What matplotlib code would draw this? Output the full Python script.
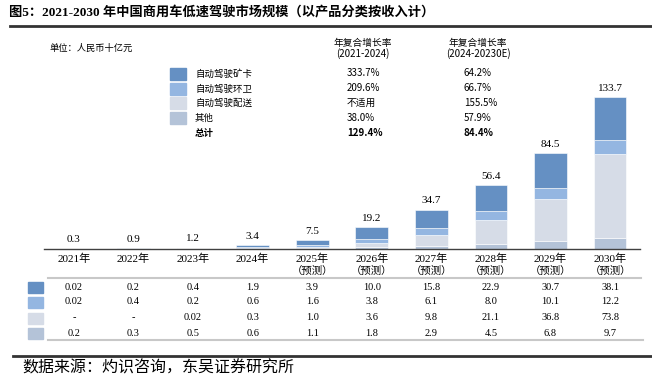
import matplotlib.pyplot as plt
from matplotlib.lines import Line2D
from matplotlib.transforms import blended_transform_factory
import numpy as np

years = ["2021年", "2022年", "2023年", "2024年", "2025年", "2026年",
         "2027年", "2028年", "2029年", "2030年"]
forecast = [False, False, False, False, True, True, True, True, True, True]
series_names = ["自动驾驶矿卡", "自动驾驶环卫", "自动驾驶配送", "其他"]
mining = [0.02, 0.2, 0.4, 1.9, 3.9, 10.0, 15.8, 22.9, 30.7, 38.1]
sanitation = [0.02, 0.4, 0.2, 0.6, 1.6, 3.8, 6.1, 8.0, 10.1, 12.2]
delivery = [None, None, 0.02, 0.3, 1.0, 3.6, 9.8, 21.1, 36.8, 73.8]
others = [0.2, 0.3, 0.5, 0.6, 1.1, 1.8, 2.9, 4.5, 6.8, 9.7]
totals = [0.3, 0.9, 1.2, 3.4, 7.5, 19.2, 34.7, 56.4, 84.5, 133.7]
cagr_21_24 = ["333.7%", "209.6%", "不适用", "38.0%", "129.4%"]
cagr_24_30 = ["64.2%", "66.7%", "155.5%", "57.9%", "84.4%"]

colors = ["#6590C3", "#94B6E1", "#D6DCE7", "#B4C3D8"]

W, H = 652, 382
SERIF = ["Liberation Serif", "Noto Sans CJK SC"]
SANS = ["Noto Sans CJK SC", "DejaVu Sans"]


def fx(x):
    return x / W


def fy(y):
    return 1 - y / H


def hline(x0, x1, y, color, lw):
    fig.add_artist(Line2D([fx(x0), fx(x1)], [fy(y), fy(y)],
                          transform=fig.transFigure, color=color, lw=lw))


def fmt(v):
    if v is None:
        return "-"
    if v < 0.1:
        return f"{v:.2f}"
    return f"{v:.1f}"


fig = plt.figure(figsize=(6.52, 3.82), dpi=100)
ax = fig.add_axes([fx(44.2), fy(249), (639.8 - 44.2) / W, (249 - 60) / H])
ax.set_xlim(-0.5, 9.5)
ax.set_ylim(0, 189 / 1.137)

x = np.arange(len(years))
stack = [others, delivery, sanitation, mining]
stack_colors = [colors[3], colors[2], colors[1], colors[0]]
bottom = np.zeros(len(years))
for vals, c in zip(stack, stack_colors):
    v = np.array([0 if a is None else a for a in vals])
    ax.bar(x, v, 0.55, bottom=bottom, color=c, edgecolor="white", linewidth=0.4)
    bottom += v

for xi, t in zip(x, totals):
    top = max(t, bottom[xi])
    ax.annotate(f"{t:.1f}", (xi, top), xytext=(0, 3), textcoords="offset points",
                ha="center", va="bottom", fontsize=8, family=SERIF)

for s in ["top", "right", "left"]:
    ax.spines[s].set_visible(False)
ax.spines["bottom"].set_color("#404040")
ax.spines["bottom"].set_linewidth(1)
ax.set_xticks([])
ax.set_yticks([])

tr = blended_transform_factory(ax.transData, fig.transFigure)
for xi, yr, f in zip(x, years, forecast):
    ax.text(xi, fy(258.5), yr, transform=tr, ha="center", va="center",
            fontsize=8, family=SERIF)
    if f:
        ax.text(xi, fy(270.5), "（预测）", transform=tr, ha="center", va="center",
                fontsize=7.5, family=SERIF)

# data table below the axis
rows = [mining, sanitation, delivery, others]
row_y = [287, 302, 318, 333]
for r, ry, c in zip(rows, row_y, colors):
    fig.add_artist(plt.Rectangle((fx(28), fy(ry + 5.5)), 15 / W, 11 / H,
                                 transform=fig.transFigure, color=c))
    for xi, v in zip(x, r):
        ax.text(xi, fy(ry), fmt(v), transform=tr, ha="center", va="center",
                fontsize=7.5, family=SERIF)

hline(48, 641, 278, "#C8C8C8", 1.5)
hline(48, 643, 340, "#C8C8C8", 1.5)

# legend and CAGR block
fig.text(fx(50), fy(48), "单位：人民币十亿元", fontsize=6.7, family=SANS, va="center")
leg_y = [74, 89, 103, 118]
for name, c, ly in zip(series_names, colors, leg_y):
    fig.add_artist(plt.Rectangle((fx(170), fy(ly + 6)), 16 / W, 12 / H,
                                 transform=fig.transFigure, color=c))
    fig.text(fx(195), fy(ly), name, fontsize=6.8, family=SANS, va="center")
fig.text(fx(195), fy(133), "总计", fontsize=6.8, family=SANS, va="center",
         weight="bold")

for cx, period in [(363, "(2021-2024)"), (478, "(2024-20230E)")]:
    fig.text(fx(cx), fy(43), "年复合增长率", fontsize=7, family=SANS,
             ha="center", va="center")
    fig.text(fx(cx), fy(54), period, fontsize=7, family=SANS,
             ha="center", va="center")
cagr_y = [73, 88, 103, 118, 133]
for i, (a, b, cy) in enumerate(zip(cagr_21_24, cagr_24_30, cagr_y)):
    w = "bold" if i == 4 else "normal"
    fig.text(fx(347), fy(cy), a, fontsize=7, family=SANS, va="center", weight=w)
    fig.text(fx(464), fy(cy), b, fontsize=7, family=SANS, va="center", weight=w)

# title and source
fig.text(fx(9), fy(13), "图5：2021-2030 年中国商用车低速驾驶市场规模（以产品分类按收入计）",
         fontsize=9.5, weight="bold", family=SERIF, va="center")
hline(10, 652, 26, "#333333", 2)
hline(13, 652, 356, "#333333", 2)
fig.text(fx(22), fy(368), "数据来源：灼识咨询，东吴证券研究所", fontsize=11.5,
         family=SANS, va="center")

fig.savefig("out.png", dpi=100)
